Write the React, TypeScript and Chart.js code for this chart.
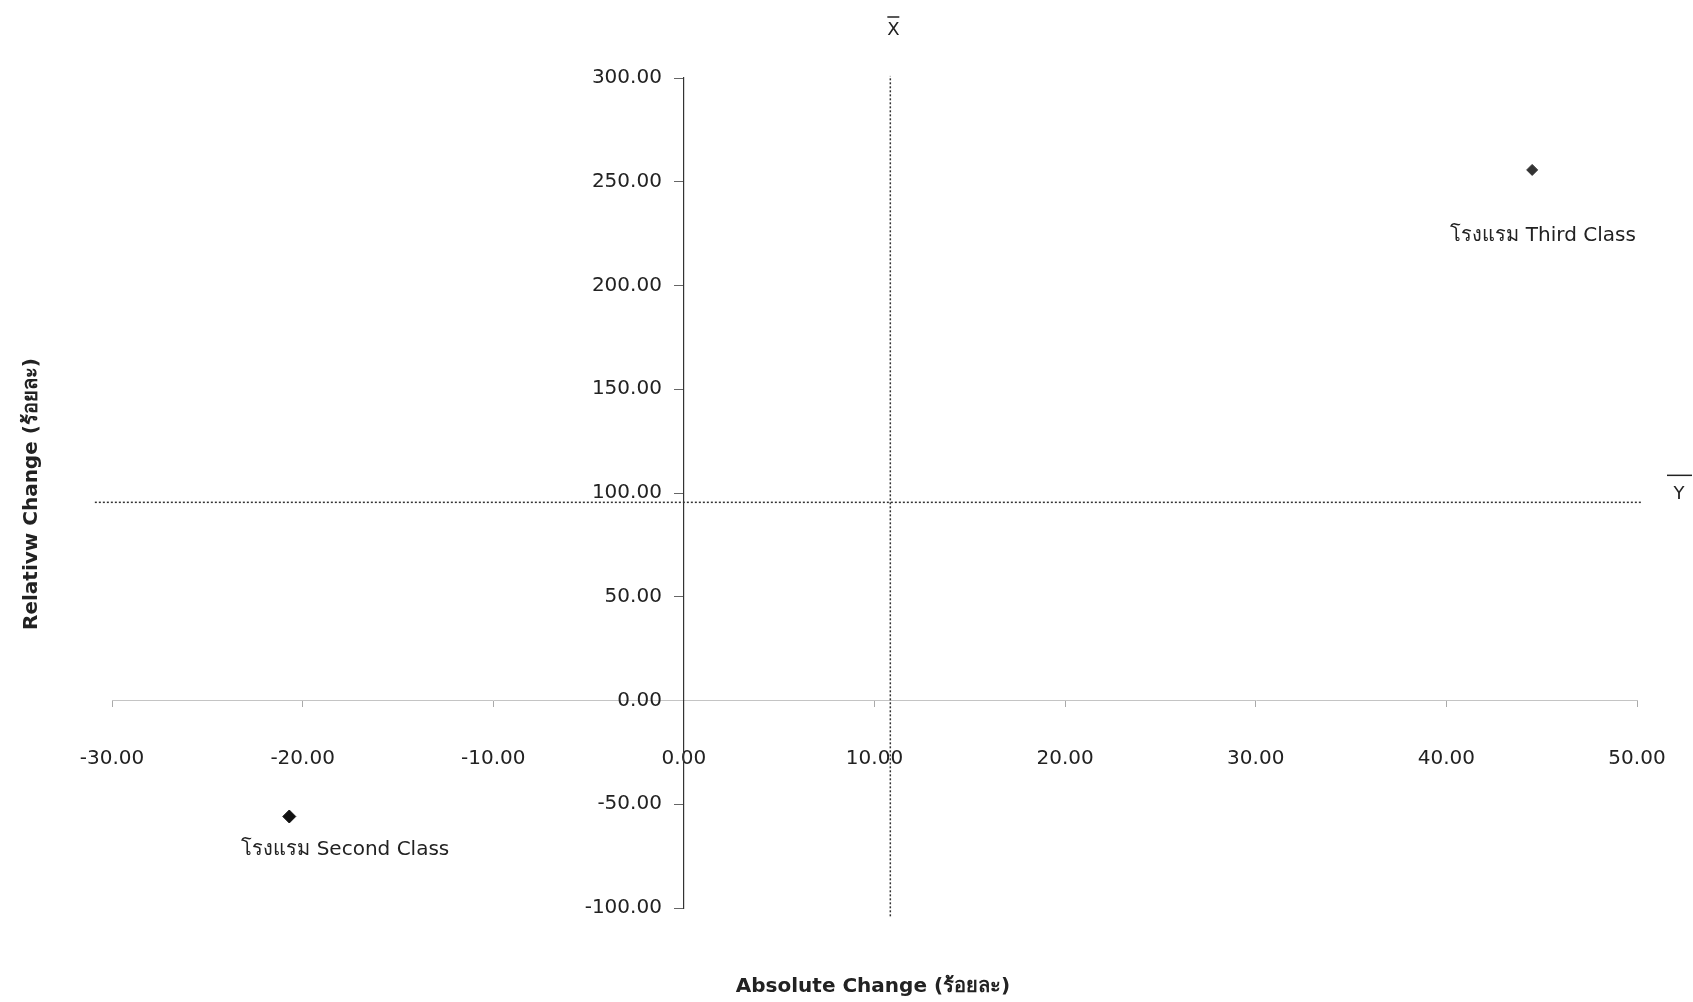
import React, { useEffect, useRef } from "react";
import { Chart, registerables } from "chart.js";

Chart.register(...registerables);

// ---- data ----
const pointNames = ["โรงแรม Third Class", "โรงแรม Second Class"];
const absoluteChange = [44.5, -20.7];
const relativeChange = [255.7, -55.9];
const meanAbsolute = 10.83;
const meanRelative = 95.5;
const xTickValues = [-30, -20, -10, 0, 10, 20, 30, 40, 50];
const yTickValues = [-100, -50, 0, 50, 100, 150, 200, 250, 300];
const xTitle = "Absolute Change (ร้อยละ)";
const yTitle = "Relativw Change (ร้อยละ)";
const meanXLabel = "X";
const meanYLabel = "Y";

// ---- style ----
const FONT = "'DejaVu Sans', 'Liberation Sans', Arial, sans-serif";
const labelOffsets = [
  { dx: 11, dy: 66 },
  { dx: 56, dy: 33 },
];

const annotationPlugin = {
  id: "annotations",
  afterDraw(chart: any) {
    const ctx = chart.ctx;
    const xs = chart.scales.x;
    const ys = chart.scales.y;
    ctx.save();
    ctx.fillStyle = "#222";
    // y tick labels (left of the axis line at x = 0)
    ctx.font = `20px ${FONT}`;
    ctx.textAlign = "right";
    ctx.textBaseline = "middle";
    const axisX = xs.getPixelForValue(0);
    ys.ticks.forEach((t: any) => {
      ctx.fillText(Number(t.value).toFixed(2), axisX - 22, ys.getPixelForValue(t.value));
    });
    // point labels
    ctx.textAlign = "center";
    pointNames.forEach((name, i) => {
      const px = xs.getPixelForValue(absoluteChange[i]);
      const py = ys.getPixelForValue(relativeChange[i]);
      ctx.fillText(name, px + labelOffsets[i].dx, py + labelOffsets[i].dy);
    });
    // mean markers
    ctx.font = `18px ${FONT}`;
    const mx = xs.getPixelForValue(meanAbsolute);
    ctx.fillText(meanXLabel, mx + 3, 30);
    ctx.strokeStyle = "#222";
    ctx.lineWidth = 1.5;
    ctx.beginPath();
    ctx.moveTo(mx - 3, 17);
    ctx.lineTo(mx + 9, 17);
    ctx.stroke();
    const my = ys.getPixelForValue(meanRelative);
    ctx.fillText(meanYLabel, 1679, my - 8);
    ctx.beginPath();
    ctx.moveTo(1667, my - 27);
    ctx.lineTo(1692, my - 27);
    ctx.stroke();
    // axis titles
    ctx.font = `bold 20px ${FONT}`;
    ctx.fillText(xTitle, 873, 987);
    ctx.translate(32, 494);
    ctx.rotate(-Math.PI / 2);
    ctx.fillText(yTitle, 0, 0);
    ctx.restore();
  },
};

export default function App() {
  const ref = useRef<HTMLCanvasElement>(null);
  useEffect(() => {
    if (!ref.current) return;
    const xMin = xTickValues[0];
    const xMax = xTickValues[xTickValues.length - 1];
    const yMin = yTickValues[0];
    const yMax = yTickValues[yTickValues.length - 1];
    const chart = new Chart(ref.current, {
      type: "scatter",
      data: {
        datasets: [
          {
            label: "points",
            data: absoluteChange.map((x, i) => ({ x, y: relativeChange[i] })),
            pointStyle: "rectRot",
            pointRadius: [5.5, 6.5],
            backgroundColor: ["#333", "#111"],
            borderColor: ["#333", "#111"],
          },
          {
            label: "meanX",
            data: [
              { x: meanAbsolute, y: yMin - 4 },
              { x: meanAbsolute, y: yMax + 1 },
            ],
            showLine: true,
            pointRadius: 0,
            borderColor: "#333",
            borderWidth: 1.5,
            borderDash: [2, 2],
            clip: false as any,
          },
          {
            label: "meanY",
            data: [
              { x: xMin - 0.9, y: meanRelative },
              { x: xMax + 0.3, y: meanRelative },
            ],
            showLine: true,
            pointRadius: 0,
            borderColor: "#333",
            borderWidth: 1.5,
            borderDash: [2, 2],
            clip: false as any,
          },
        ],
      },
      options: {
        responsive: false,
        animation: false,
        layout: { padding: { left: 112, right: 56, top: 78, bottom: 94 } },
        plugins: { legend: { display: false }, tooltip: { enabled: false } },
        scales: {
          x: {
            type: "linear",
            position: { y: 0 } as any,
            min: xMin,
            max: xMax,
            afterBuildTicks: (s: any) => {
              s.ticks = xTickValues.map((v) => ({ value: v }));
            },
            ticks: {
              color: "#222",
              font: { family: FONT, size: 20, lineHeight: 4.8 },
              padding: 4,
              callback: (v: any) => Number(v).toFixed(2),
              maxRotation: 0,
            },
            grid: { drawOnChartArea: false, drawTicks: true, tickLength: 6, color: "#aaa" },
            border: { color: "#c4c4c4", width: 1 },
          },
          y: {
            type: "linear",
            position: { x: 0 } as any,
            min: yMin,
            max: yMax,
            afterBuildTicks: (s: any) => {
              s.ticks = yTickValues.map((v) => ({ value: v }));
            },
            ticks: { display: false },
            grid: { drawOnChartArea: false, drawTicks: true, tickLength: 9, color: "#666" },
            border: { color: "#333", width: 1.2 },
          },
        },
      },
      plugins: [annotationPlugin],
    });
    return () => chart.destroy();
  }, []);
  return (
    <div style={{ position: "fixed", left: 0, top: 0, width: 1693, height: 1002, background: "#fff" }}>
      <canvas ref={ref} width={1693} height={1002} />
    </div>
  );
}
